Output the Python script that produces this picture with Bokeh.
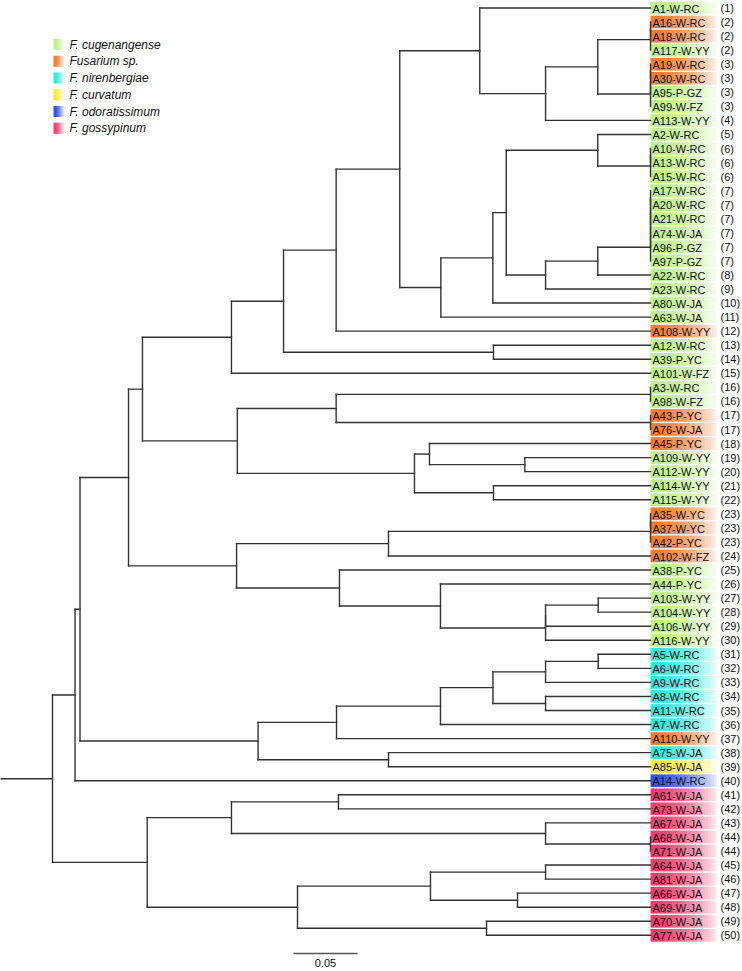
from collections import defaultdict
from bokeh.plotting import figure
from bokeh.models import Range1d
from bokeh.core.properties import value
from bokeh.embed import file_html
from bokeh.resources import INLINE

# ---------------- data ----------------
leaf_names = [
    "A1-W-RC", "A16-W-RC", "A18-W-RC", "A117-W-YY", "A19-W-RC", "A30-W-RC", "A95-P-GZ", "A99-W-FZ", "A113-W-YY", "A2-W-RC",
    "A10-W-RC", "A13-W-RC", "A15-W-RC", "A17-W-RC", "A20-W-RC", "A21-W-RC", "A74-W-JA", "A96-P-GZ", "A97-P-GZ", "A22-W-RC",
    "A23-W-RC", "A80-W-JA", "A63-W-JA", "A108-W-YY", "A12-W-RC", "A39-P-YC", "A101-W-FZ", "A3-W-RC", "A98-W-FZ", "A43-P-YC",
    "A76-W-JA", "A45-P-YC", "A109-W-YY", "A112-W-YY", "A114-W-YY", "A115-W-YY", "A35-W-YC", "A37-W-YC", "A42-P-YC", "A102-W-FZ",
    "A38-P-YC", "A44-P-YC", "A103-W-YY", "A104-W-YY", "A106-W-YY", "A116-W-YY", "A5-W-RC", "A6-W-RC", "A9-W-RC", "A8-W-RC",
    "A11-W-RC", "A7-W-RC", "A110-W-YY", "A75-W-JA", "A85-W-JA", "A14-W-RC", "A61-W-JA", "A73-W-JA", "A67-W-JA", "A68-W-JA",
    "A71-W-JA", "A64-W-JA", "A81-W-JA", "A66-W-JA", "A69-W-JA", "A70-W-JA", "A77-W-JA",
]
clade_numbers = [
    1, 2, 2, 2, 3, 3, 3, 3, 4, 5,
    6, 6, 6, 7, 7, 7, 7, 7, 7, 8,
    9, 10, 11, 12, 13, 14, 15, 16, 16, 17,
    17, 18, 19, 20, 21, 22, 23, 23, 23, 24,
    25, 26, 27, 28, 29, 30, 31, 32, 33, 34,
    35, 36, 37, 38, 39, 40, 41, 42, 43, 44,
    44, 45, 46, 47, 48, 49, 50,
]
species_names = ["F. cugenangense", "Fusarium sp.", "F. nirenbergiae",
                 "F. curvatum", "F. odoratissimum", "F. gossypinum"]
species_colors = ["#bdf28a", "#f27b2f", "#2ee8dc", "#fbe932", "#3050e8", "#f03c6c"]
leaf_species = [
    0, 1, 1, 0, 1, 1, 0, 0, 0, 0,
    0, 0, 0, 0, 0, 0, 0, 0, 0, 0,
    0, 0, 0, 1, 0, 0, 0, 0, 0, 1,
    1, 1, 0, 0, 0, 0, 1, 1, 1, 1,
    0, 0, 0, 0, 0, 0, 2, 2, 2, 2,
    2, 2, 1, 2, 3, 4, 5, 5, 5, 5,
    5, 5, 5, 5, 5, 5, 5,
]
leaf_parent = [
    "NJ", "T1a", "T1a", "T1", "T2a", "T2a", "T2b", "T2", "NK", "NP",
    "T3a", "T3a", "T3", "T4a", "T4a", "T4b", "T4c", "T4d", "T4", "NR",
    "NQ", "NN", "NM", "NH", "NS", "NS", "NF", "T5", "T5", "T6",
    "T6", "NW", "NY", "NY", "NX", "NX", "T7a", "T7a", "T7", "O1",
    "O2", "O3", "O5", "O5", "O4a", "O4", "P7", "P7", "P5", "P6",
    "P6", "P3", "P1", "P2", "P2", "NA", "G6", "G6", "G7", "T8",
    "T8", "G8", "G8", "G9", "G9", "G5", "G5",
]
# internal nodes: id, parent, distance from root (None = at the tips)
node_ids = ["R", "NA", "NB", "ND", "NE", "NF", "NG", "NH", "NI", "NJ", "NK", "NL",
            "T1", "T1a", "T2", "T2b", "T2a", "NM", "NN", "NO", "NP", "T3", "T3a",
            "NQ", "NR", "T4", "T4d", "T4c", "T4b", "T4a", "NS", "NT", "NU", "T5", "T6",
            "NV", "NW", "NY", "NX", "NZ", "O1", "T7", "T7a", "O2", "O3", "O4", "O4a", "O5",
            "NC", "P1", "P3", "P4", "P5", "P7", "P6", "P2",
            "G1", "G2", "G6", "G7", "T8", "G3", "G4", "G8", "G9", "G5"]
node_parent = [None, "R", "NA", "NB", "ND", "NE", "NF", "NG", "NH", "NI", "NJ", "NK",
               "NL", "T1", "NL", "T2", "T2b", "NI", "NM", "NN", "NO", "NP", "T3",
               "NO", "NQ", "NR", "T4", "T4d", "T4c", "T4b", "NG", "NE", "NT", "NU", "NU",
               "NT", "NV", "NW", "NV", "ND", "NZ", "O1", "T7", "NZ", "O2", "O3", "O4", "O4a",
               "NB", "NC", "P1", "P3", "P4", "P5", "P4", "NC",
               "R", "G1", "G2", "G2", "G7", "G1", "G3", "G4", "G4", "G3"]
node_depth = [0.0, 0.0176, 0.0215, 0.0594, 0.0703, 0.1398, 0.1805, 0.2216, 0.2713, 0.3338, 0.3852, 0.4260,
              None, None, None, None, None, 0.3034, 0.3440, 0.3545, 0.4260, None, None,
              0.3852, 0.4260, None, None, None, None, None, 0.3445, 0.1444, 0.2216, None, None,
              0.2828, 0.2945, 0.3690, 0.3445, 0.1438, 0.2625, None, None, 0.2242, 0.3031, 0.3852, 0.3852, 0.4263,
              0.1606, 0.2219, 0.3031, 0.3441, 0.3852, 0.4263, 0.3852, 0.2625,
              0.0740, 0.1398, 0.2234, 0.3852, None, 0.1914, 0.2953, 0.3852, 0.3633, 0.3391]
tip_depth = 0.4672
root_stub = -0.0406
scale_bar_value = 0.05
scale_bar_label = "0.05"

# ---------------- layout helpers ----------------
PX_PER_UNIT = 1280.0
ROOT_PX = 52.0
ROW0_PX = 7.5
ROW_PX = 14.05


def X(px):
    return (px - ROOT_PX) / PX_PER_UNIT


def Y(py):
    return (py - ROW0_PX) / ROW_PX


# ---------------- tree geometry ----------------
depth = {}
parent = {}
children = defaultdict(list)
for nid, par, d in zip(node_ids, node_parent, node_depth):
    depth[nid] = tip_depth if d is None else d
    parent[nid] = par
    if par is not None:
        children[par].append(nid)
for i, par in enumerate(leaf_parent):
    key = ("L", i)
    depth[key] = tip_depth
    parent[key] = par
    children[par].append(key)

ypos = {}


def get_y(n):
    if n in ypos:
        return ypos[n]
    if isinstance(n, tuple):
        ypos[n] = float(n[1])
    else:
        ys = [get_y(c) for c in children[n]]
        ypos[n] = sum(ys) / len(ys)
    return ypos[n]


for n in list(depth.keys()):
    get_y(n)

x0s, y0s, x1s, y1s = [], [], [], []
for n, par in parent.items():
    if par is None:
        continue
    if depth[n] - depth[par] > 1e-9:
        x0s.append(depth[par]); x1s.append(depth[n])
        y0s.append(ypos[n]); y1s.append(ypos[n])
for n in node_ids:
    ys = [ypos[c] for c in children[n]]
    x0s.append(depth[n]); x1s.append(depth[n])
    y0s.append(min(ys)); y1s.append(max(ys))
# root stub
x0s.append(root_stub); x1s.append(0.0)
y0s.append(ypos["R"]); y1s.append(ypos["R"])

# ---------------- figure ----------------
W, H = 742, 971
p = figure(width=W, height=H, output_backend="svg", toolbar_location=None,
           x_range=Range1d(X(0), X(W)), y_range=Range1d(Y(H), Y(0)),
           x_axis_location=None, y_axis_location=None, min_border=0)
p.grid.visible = False
p.outline_line_color = None
p.background_fill_color = "white"


def hex2rgb(h):
    h = h.lstrip("#")
    return tuple(int(h[i:i + 2], 16) for i in (0, 2, 4))


def grad(c, t):
    r, g, b = hex2rgb(c)
    f = 0.86 * (t ** 1.6)
    return "#%02x%02x%02x" % (round(r + (255 - r) * f), round(g + (255 - g) * f), round(b + (255 - b) * f))


def gradient_boxes(lefts, rights, cys, half_h, colors, n=24):
    L, R, T, B, C = [], [], [], [], []
    for l, r, cy, c in zip(lefts, rights, cys, colors):
        w = (r - l) / n
        for k in range(n):
            L.append(l + k * w)
            R.append(min(r, l + (k + 1.3) * w))
            T.append(cy - half_h); B.append(cy + half_h)
            C.append(grad(c, k / (n - 1)))
    p.quad(left=L, right=R, top=T, bottom=B, fill_color=C, line_color=None)


# label boxes
n_leaf = len(leaf_names)
box_left = tip_depth
box_right = X(716)
gradient_boxes([box_left] * n_leaf, [box_right] * n_leaf, list(range(n_leaf)), 0.45,
               [species_colors[s] for s in leaf_species])

# tree branches
p.segment(x0=x0s, y0=y0s, x1=x1s, y1=y1s, line_color="#333333", line_width=1.4, line_cap="square")

# leaf labels
font = value("Liberation Sans")
p.text(x=[X(652)] * n_leaf, y=[i + 0.05 for i in range(n_leaf)], text=leaf_names,
       text_font=font, text_font_size="11px", text_baseline="middle", text_align="left",
       text_color="#111111")
p.text(x=[X(720)] * n_leaf, y=[i + 0.0 for i in range(n_leaf)], text=["(%d)" % c for c in clade_numbers],
       text_font=font, text_font_size="11px", text_baseline="middle", text_align="left",
       text_color="#111111")

# legend
n_sp = len(species_names)
leg_y = [Y(44 + 16.75 * k) for k in range(n_sp)]
gradient_boxes([X(53)] * n_sp, [X(64)] * n_sp, leg_y, 5.5 / ROW_PX, species_colors, n=10)
p.text(x=[X(69)] * n_sp, y=leg_y, text=species_names, text_font=font, text_font_size="12px",
       text_font_style="italic", text_baseline="middle", text_align="left", text_color="#111111")

# scale bar
sb_x0 = X(293)
p.segment(x0=[sb_x0], y0=[Y(953)], x1=[sb_x0 + scale_bar_value], y1=[Y(953)],
          line_color="#555555", line_width=1.3)
p.text(x=[sb_x0 + scale_bar_value / 2], y=[Y(958)], text=[scale_bar_label], text_font=font,
       text_font_size="11px", text_baseline="top", text_align="center", text_color="#111111")

open("out.html", "w").write(file_html(p, INLINE))
